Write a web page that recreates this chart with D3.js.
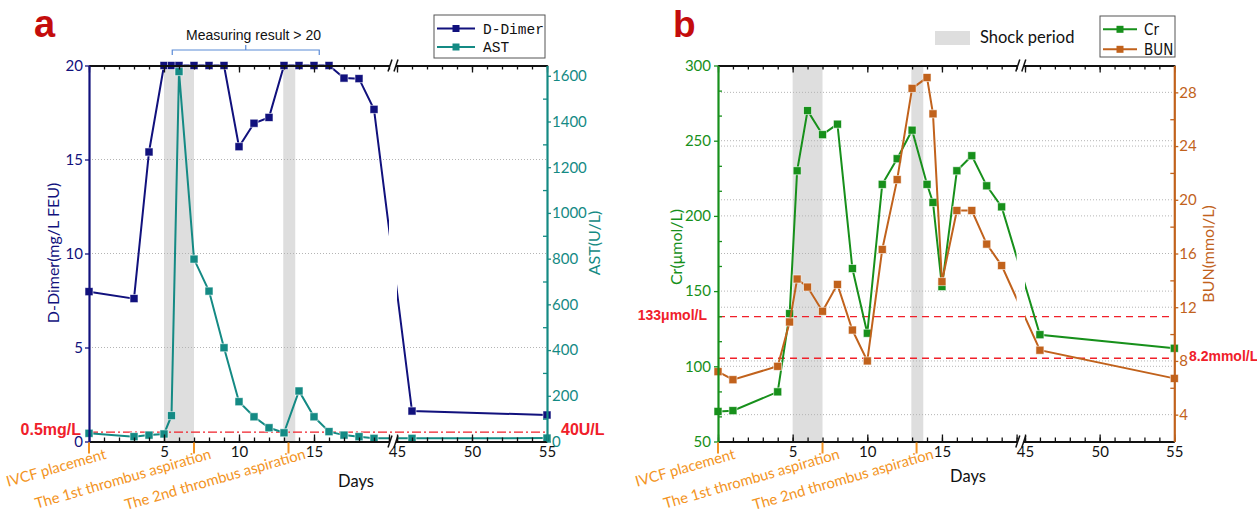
<!DOCTYPE html>
<html>
<head>
<meta charset="utf-8">
<script src="https://cdn.jsdelivr.net/npm/d3@7"></script>
<style>
  body { margin: 0; background: #fff; }
  svg { display: block; font-family: Lato, "Open Sans", sans-serif; }
</style>
</head>
<body>
<svg id="chart" width="1257" height="515"></svg>
<script>
// ---- panel a: D-Dimer / AST ----
const daysA = [0, 3, 4, 5, 5.5, 6, 7, 8, 9, 10, 11, 12, 13, 14, 15, 16, 17, 18, 19, 46, 55];
const dDimer = [7.97, 7.6, 15.4, 20, 20, 20, 20, 20, 20, 15.68, 16.93, 17.24, 20, 20, 20, 20, 19.33, 19.3, 17.67, 1.62, 1.41];
const ast = [36, 21, 28, 33, 113, 1618, 798, 658, 410, 174, 108, 60, 38, 221, 108, 43, 28, 21, 14, 14, 15];

// ---- panel b: Cr / BUN ----
const daysB = [0, 1, 4, 4.8, 5.3, 6, 7, 8, 9, 10, 11, 12, 13, 14, 14.4, 15, 16, 17, 18, 19, 46, 55];
const cr = [70, 70.5, 83, 135, 230, 270, 254, 261, 165, 122, 221, 238, 257, 221, 209, 153, 230, 240, 220, 206, 121, 112];
const bun = [7.2, 6.6, 7.6, 10.9, 14.1, 13.5, 11.7, 13.7, 10.3, 8.0, 16.3, 21.5, 28.3, 29.1, 26.4, 13.9, 19.2, 19.2, 16.7, 15.1, 8.8, 6.7];

// shared annotations
const shockPeriods = [[5, 7], [12.95, 13.75]];
const eventDays = [0, 7, 13.3];
const eventLabels = ["IVCF placement", "The 1st thrombus aspiration", "The 2nd thrombus aspiration"];

// ticks
const dayTicks = [5, 10, 15, 45, 50, 55];
const dayMajor = [0, 5, 10, 15, 45, 50, 55];
const dayMinor = d3.range(0, 21).concat(d3.range(45, 56));
const dDimerTicks = [0, 5, 10, 15, 20];
const astTicks = [0, 200, 400, 600, 800, 1000, 1200, 1400, 1600];
const astMinor = [100, 300, 500, 700, 900, 1100, 1300, 1500];
const crTicks = [50, 100, 150, 200, 250, 300];
const crMinor = [66.7, 83.3, 116.7, 133.3, 166.7, 183.3, 216.7, 233.3, 266.7, 283.3];
const bunTicks = [4, 8, 12, 16, 20, 24, 28];
const bunMinor = [6, 10, 14, 18, 22, 26];

const navy = "#11117d", teal = "#148a84", green = "#17901b", brown = "#c1621c";
const red = "#f0202a", orange = "#f39423";

const svg = d3.select("#chart");

const panelA = {
  id: "a", left: 89, breakL: 389, breakR: 397, right: 547, top: 65.5, bottom: 441.5,
  yL: { domain: [0, 20], ticks: dDimerTicks, minor: [], grid: [5, 10, 15], color: navy,
        title: "D-Dimer(mg/L FEU)", tx: 59, ty: 253, pad: 2 },
  yR: { domain: [0, 1645], ticks: astTicks, minor: astMinor, grid: [], color: teal,
        title: "AST(U/L)", tx: 600, ty: 243, pad: 1 },
  series: [
    { name: "D-Dimer", days: daysA, values: dDimer, axis: "L", color: navy },
    { name: "AST", days: daysA, values: ast, axis: "R", color: teal }
  ],
  refs: [{ axis: "L", value: 0.5, dash: "9,3,2,3" }],
  refLabels: [
    { axis: "L", value: 0.5, text: "0.5mg/L", x: 81, anchor: "end", size: 16 },
    { axis: "R", value: 40, text: "40U/L", x: 561, anchor: "start", size: 16 }
  ],
  legend: { x: 434, y: 15, w: 111, h: 43, font: "'Liberation Mono', 'DejaVu Sans Mono', monospace",
            size: 14.5, rows: [28.5, 47], lineX: [437, 475], textX: 483 },
  letter: { text: "a", x: 34, y: 37, size: 38 },
  days: { x: 356, y: 487 }
};

const panelB = {
  id: "b", left: 718, breakL: 1016.6, breakR: 1025, right: 1174.3, top: 65.5, bottom: 441.5,
  yL: { domain: [50, 300], ticks: crTicks, minor: crMinor, grid: [100, 150, 200, 250], color: green,
        title: "Cr(μmol/L)", tx: 682, ty: 247, pad: 3 },
  yR: { domain: [2, 30], ticks: bunTicks, minor: bunMinor, grid: bunTicks, color: brown,
        title: "BUN(mmol/L)", tx: 1214, ty: 254, pad: 1 },
  series: [
    { name: "Cr", days: daysB, values: cr, axis: "L", color: green },
    { name: "BUN", days: daysB, values: bun, axis: "R", color: brown }
  ],
  refs: [{ axis: "L", value: 133, dash: "7,5" }, { axis: "R", value: 8.2, dash: "7,5" }],
  refLabels: [
    { axis: "L", value: 133, text: "133μmol/L", x: 707, anchor: "end", size: 14 },
    { axis: "R", value: 8.2, text: "8.2mmol/L", x: 1189, anchor: "start", size: 14 }
  ],
  legend: { x: 1100, y: 16, w: 75, h: 41, font: "'Liberation Sans Narrow', 'DejaVu Sans Condensed', 'DejaVu Sans', sans-serif",
            size: 15, rows: [29.3, 49.3], lineX: [1103, 1137], textX: 1144 },
  letter: { text: "b", x: 673, y: 37, size: 37 },
  days: { x: 968, y: 482 }
};

drawPanel(panelA);
drawPanel(panelB);
drawExtras();

function drawPanel(p) {
  const g = svg.append("g");
  const x = d3.scaleLinear().domain([0, 20, 45, 55]).range([p.left, p.breakL, p.breakR, p.right]);
  const yL = d3.scaleLinear().domain(p.yL.domain).range([p.bottom, p.top]);
  const yR = d3.scaleLinear().domain(p.yR.domain).range([p.bottom, p.top]);
  const yOf = a => (a === "L" ? yL : yR);
  const fmt = d3.format("d");

  // shock periods
  g.append("g").selectAll("rect").data(shockPeriods).join("rect")
    .attr("x", d => x(d[0]))
    .attr("width", d => x(d[1]) - x(d[0]))
    .attr("y", p.top)
    .attr("height", p.bottom - p.top)
    .attr("fill", "#dedede");

  // grid
  const grid = g.append("g")
    .attr("stroke", "#b4b4b4").attr("stroke-width", 1).attr("stroke-dasharray", "1,2");
  grid.selectAll("line.gl").data(p.yL.grid).join("line").attr("class", "gl")
    .attr("x1", p.left).attr("x2", p.right)
    .attr("y1", d => yL(d)).attr("y2", d => yL(d));
  grid.selectAll("line.gr").data(p.yR.grid).join("line").attr("class", "gr")
    .attr("x1", p.left).attr("x2", p.right)
    .attr("y1", d => yR(d)).attr("y2", d => yR(d));

  // reference lines
  g.append("g").selectAll("line").data(p.refs).join("line")
    .attr("x1", p.left).attr("x2", p.right)
    .attr("y1", d => yOf(d.axis)(d.value)).attr("y2", d => yOf(d.axis)(d.value))
    .attr("stroke", red).attr("stroke-width", 1.4).attr("stroke-dasharray", d => d.dash);

  g.append("g").selectAll("text").data(p.refLabels).join("text")
    .attr("x", d => d.x)
    .attr("y", d => yOf(d.axis)(d.value) + 3)
    .attr("text-anchor", d => d.anchor)
    .attr("font-family", "'Liberation Sans', Arial, sans-serif")
    .attr("font-weight", "bold")
    .attr("font-size", d => d.size)
    .attr("fill", red)
    .text(d => d.text);

  // clip so the data lines open up at the axis break
  const clipId = "clip-" + p.id;
  const clip = svg.append("defs").append("clipPath").attr("id", clipId);
  clip.append("rect").attr("x", p.left - 20).attr("y", 0).attr("width", p.breakL - p.left + 20).attr("height", 515);
  clip.append("rect").attr("x", p.breakR).attr("y", 0).attr("width", p.right - p.breakR + 20).attr("height", 515);

  p.series.forEach(s => {
    const y = yOf(s.axis);
    const pts = s.days.map((d, i) => [d, s.values[i]]);
    const line = d3.line().x(d => x(d[0])).y(d => y(d[1]));
    const sg = g.append("g");
    sg.append("path")
      .datum(pts)
      .attr("d", line)
      .attr("clip-path", `url(#${clipId})`)
      .attr("fill", "none")
      .attr("stroke", s.color)
      .attr("stroke-width", 2);
    sg.selectAll("rect").data(pts).join("rect")
      .attr("x", d => x(d[0]) - 4)
      .attr("y", d => y(d[1]) - 4)
      .attr("width", 8).attr("height", 8)
      .attr("fill", s.color)
      .attr("stroke", "#fff").attr("stroke-opacity", 0.7).attr("stroke-width", 0.8);
  });

  // axes
  const styleAxis = (sel, col, w) => {
    sel.attr("color", col)
      .attr("font-family", "Lato, 'Open Sans', sans-serif")
      .attr("font-size", 15);
    sel.select(".domain").attr("stroke-width", w);
    sel.selectAll(".tick line").attr("stroke-width", 1.3);
  };
  const minorStyle = (sel, col) => {
    sel.select(".domain").remove();
    sel.selectAll("line").attr("stroke", col).attr("stroke-width", 1.3);
  };

  g.append("g").attr("transform", `translate(0,${p.bottom})`)
    .call(d3.axisBottom(x).tickValues(dayTicks).tickSize(-7).tickSizeOuter(0).tickPadding(5))
    .call(a => styleAxis(a, "#111", 2));
  g.append("g").attr("transform", `translate(0,${p.bottom})`)
    .call(d3.axisBottom(x).tickValues(dayMinor).tickSize(-4).tickFormat(""))
    .call(a => minorStyle(a, "#111"));
  g.append("g").attr("transform", `translate(0,${p.bottom})`)
    .call(d3.axisBottom(x).tickValues([0, 20]).tickSize(-7).tickFormat(""))
    .call(a => minorStyle(a, "#111"));

  g.append("g").attr("transform", `translate(0,${p.top})`)
    .call(d3.axisTop(x).tickValues(dayMajor).tickSize(-7).tickSizeOuter(0).tickFormat(""))
    .call(a => styleAxis(a, "#111", 2));
  g.append("g").attr("transform", `translate(0,${p.top})`)
    .call(d3.axisTop(x).tickValues(dayMinor).tickSize(-4).tickFormat(""))
    .call(a => minorStyle(a, "#111"));

  g.append("g").attr("transform", `translate(${p.left},0)`)
    .call(d3.axisLeft(yL).tickValues(p.yL.ticks).tickFormat(fmt).tickSize(4).tickSizeOuter(0).tickPadding(p.yL.pad))
    .call(a => styleAxis(a, p.yL.color, 2.2));
  g.append("g").attr("transform", `translate(${p.left},0)`)
    .call(d3.axisLeft(yL).tickValues(p.yL.minor).tickSize(-4).tickFormat(""))
    .call(a => minorStyle(a, p.yL.color));

  g.append("g").attr("transform", `translate(${p.right},0)`)
    .call(d3.axisRight(yR).tickValues(p.yR.ticks).tickFormat(fmt).tickSize(4).tickSizeOuter(0).tickPadding(p.yR.pad))
    .call(a => styleAxis(a, p.yR.color, 2.2));
  g.append("g").attr("transform", `translate(${p.right},0)`)
    .call(d3.axisRight(yR).tickValues(p.yR.minor).tickSize(-4).tickFormat(""))
    .call(a => minorStyle(a, p.yR.color));

  // axis break marks
  const c = (p.breakL + p.breakR) / 2;
  [p.top, p.bottom].forEach(yy => {
    g.append("rect").attr("x", c - 3).attr("y", yy - 2.5).attr("width", 6).attr("height", 5).attr("fill", "#fff");
    [-5, 1].forEach(o => {
      g.append("line")
        .attr("x1", c + o).attr("y1", yy + 6)
        .attr("x2", c + o + 4).attr("y2", yy - 6)
        .attr("stroke", "#111").attr("stroke-width", 1.5);
    });
  });

  // event markers under the x axis
  g.append("g").selectAll("line").data(eventDays).join("line")
    .attr("x1", d => x(d)).attr("x2", d => x(d))
    .attr("y1", p.bottom + 1).attr("y2", p.bottom + 12)
    .attr("stroke", orange).attr("stroke-width", 2);
  g.append("g").selectAll("text").data(eventDays).join("text")
    .attr("transform", d => `translate(${x(d) + 18},${p.bottom + 17}) rotate(-16)`)
    .attr("text-anchor", "end")
    .attr("font-size", 14.8)
    .attr("fill", orange)
    .text((d, i) => eventLabels[i]);

  // axis titles
  [p.yL, p.yR].forEach(ax => {
    g.append("text")
      .attr("transform", `translate(${ax.tx},${ax.ty}) rotate(-90)`)
      .attr("text-anchor", "middle")
      .attr("font-size", 16)
      .attr("fill", ax.color)
      .text(ax.title);
  });
  g.append("text")
    .attr("x", p.days.x).attr("y", p.days.y)
    .attr("text-anchor", "middle")
    .attr("font-size", 16.5)
    .attr("fill", "#111")
    .text("Days");

  // panel letter
  g.append("text")
    .attr("x", p.letter.x).attr("y", p.letter.y)
    .attr("font-family", "'Liberation Sans', Arial, sans-serif")
    .attr("font-weight", "bold")
    .attr("font-size", p.letter.size)
    .attr("fill", "#c40c0c")
    .text(p.letter.text);

  // legend
  const L = p.legend;
  const lg = g.append("g");
  lg.append("rect")
    .attr("x", L.x).attr("y", L.y).attr("width", L.w).attr("height", L.h)
    .attr("fill", "#fff").attr("stroke", "#555").attr("stroke-width", 1);
  const item = lg.selectAll("g").data(p.series).join("g")
    .attr("transform", (d, i) => `translate(0,${L.rows[i]})`);
  item.append("line")
    .attr("x1", L.lineX[0]).attr("x2", L.lineX[1])
    .attr("stroke", d => d.color).attr("stroke-width", 2);
  item.append("rect")
    .attr("x", (L.lineX[0] + L.lineX[1]) / 2 - 3.5).attr("y", -3.5)
    .attr("width", 7).attr("height", 7)
    .attr("fill", d => d.color);
  item.append("text")
    .attr("x", L.textX).attr("dy", "0.35em")
    .attr("font-family", L.font)
    .attr("font-size", L.size)
    .attr("fill", "#111")
    .text(d => d.name);
}

function drawExtras() {
  // "Measuring result > 20" bracket over panel a
  const xa = d3.scaleLinear().domain([0, 20]).range([panelA.left, panelA.breakL]);
  const b0 = xa(5.55), b1 = xa(15.35), bm = xa(10.45);
  svg.append("path")
    .attr("d", `M${b0},55 L${b0},50 L${b1},50 L${b1},55 M${bm},50 L${bm},45`)
    .attr("fill", "none")
    .attr("stroke", "#5b8bd6")
    .attr("stroke-width", 1.2);
  svg.append("text")
    .attr("x", 253.5).attr("y", 40)
    .attr("text-anchor", "middle")
    .attr("font-family", "'Liberation Sans', Arial, sans-serif")
    .attr("font-size", 14)
    .attr("fill", "#111")
    .text("Measuring result > 20");

  // shock period legend in panel b
  svg.append("rect")
    .attr("x", 935).attr("y", 31).attr("width", 35).attr("height", 14)
    .attr("fill", "#dedede");
  svg.append("text")
    .attr("x", 980).attr("y", 43)
    .attr("font-size", 16.5)
    .attr("fill", "#111")
    .text("Shock period");
}
</script>
</body>
</html>
